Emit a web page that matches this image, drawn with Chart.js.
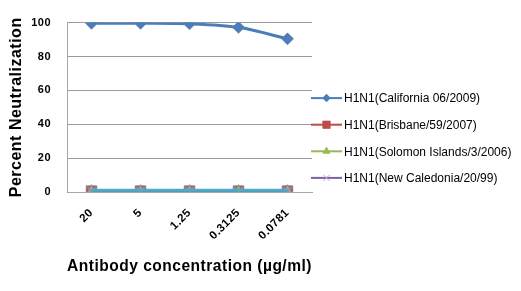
<!DOCTYPE html>
<html lang="en">
<head>
<meta charset="UTF-8">
<title>Percent Neutralization</title>
<script src="https://cdn.jsdelivr.net/npm/chart.js"></script>
<style>
  body { margin: 0; background: #fff; }
</style>
</head>
<body>
<canvas id="chart" width="521" height="291"></canvas>
<script>
// concentrations (x categories)
const concentrations = ['20', '5', '1.25', '0.3125', '0.0781'];
const yTicks = [0, 20, 40, 60, 80, 100];

// percent neutralization per strain
const california = [99.6, 99.6, 99.3, 97.2, 90.4];
const brisbane = [0.5, 0.5, 0.5, 0.5, 0.5];
const solomon = [0.8, 0.8, 0.8, 0.8, 0.8];
const newCaledonia = [0.5, 0.5, 0.5, 0.5, 0.5];
const baseline = [1, 1, 1, 1, 1];

const strainNames = [
  'H1N1(California 06/2009)',
  'H1N1(Brisbane/59/2007)',
  'H1N1(Solomon Islands/3/2006)',
  'H1N1(New Caledonia/20/99)'
];

const series = [
  { label: strainNames[0], data: california, color: '#4a7ebb', style: 'rectRot', r: 6, lr: 4 },
  { label: strainNames[1], data: brisbane, color: '#be4b48', style: 'rect', r: 7.5, lr: 5.5 },
  { label: strainNames[2], data: solomon, color: '#98b954', style: 'triangle', r: 6, lr: 4.5 },
  { label: strainNames[3], data: newCaledonia, color: '#7d60a0', style: 'crossRot', r: 6, lr: 4.5 }
];

// later series are drawn on top, like the spreadsheet
const datasets = series.map((s, i) => ({
  label: s.label,
  data: s.data,
  order: 10 - i,
  borderColor: s.color,
  backgroundColor: s.color,
  borderWidth: 3,
  pointStyle: s.style,
  pointRadius: s.r,
  pointBorderWidth: s.style === 'crossRot' ? 1.5 : 1,
  pointBorderColor: s.style === 'crossRot' ? '#9d88c4' : 'rgba(120,120,170,0.7)',
  tension: 0.3
}));
// fifth flat series drawn last, not listed in the legend
datasets.push({
  label: '',
  data: baseline,
  order: 0,
  borderColor: '#4bacc6',
  backgroundColor: '#4bacc6',
  borderWidth: 3,
  pointRadius: 0,
  tension: 0
});

const spacing = {
  id: 'spacing',
  beforeDraw(chart) { chart.ctx.letterSpacing = '0.5px'; }
};

// legend drawn by hand: line + marker, like the spreadsheet legend
const sideLegend = {
  id: 'sideLegend',
  afterDraw(chart) {
    const ctx = chart.ctx;
    const area = chart.chartArea;
    const x0 = area.right - 1;
    const yStart = area.top + 75.5;
    const step = 26.6;
    ctx.save();
    series.forEach((s, i) => {
      const y = yStart + i * step;
      const cx = x0 + 15.5;
      ctx.strokeStyle = s.color;
      ctx.lineWidth = 2;
      ctx.beginPath();
      ctx.moveTo(x0, y);
      ctx.lineTo(x0 + 31, y);
      ctx.stroke();
      if (s.style !== 'crossRot') {
        ctx.fillStyle = s.color;
        Chart.helpers.drawPoint(ctx, { pointStyle: s.style, radius: s.lr, rotation: 0, borderWidth: 0 }, cx, y);
        ctx.fill();
      } else {
        ctx.strokeStyle = '#b9a8d8';
        ctx.lineWidth = 1;
        Chart.helpers.drawPoint(ctx, { pointStyle: s.style, radius: s.lr, rotation: 0, borderWidth: 1 }, cx, y);
      }
      ctx.fillStyle = '#000';
      ctx.font = '12px "Liberation Sans", Arial, sans-serif';
      ctx.letterSpacing = '0px';
      ctx.textBaseline = 'middle';
      ctx.textAlign = 'left';
      ctx.fillText(s.label, x0 + 33, y + 1);
    });
    ctx.restore();
  }
};

new Chart(document.getElementById('chart'), {
  type: 'line',
  data: { labels: concentrations, datasets: datasets },
  options: {
    responsive: false,
    animation: false,
    devicePixelRatio: 1,
    layout: { padding: { top: 21, right: 209, left: 0, bottom: 0 } },
    plugins: {
      legend: { display: false },
      tooltip: { enabled: false }
    },
    scales: {
      x: {
        offset: true,
        grid: { display: false, drawTicks: false },
        border: { color: '#a6a6a6', width: 1 },
        ticks: {
          color: '#000',
          font: { family: '"Liberation Sans", Arial, sans-serif', size: 11.5, weight: 'bold' },
          minRotation: 45,
          maxRotation: 45,
          padding: 14
        },
        title: {
          display: true,
          text: 'Antibody concentration (µg/ml)',
          color: '#000',
          font: { family: '"Liberation Sans", Arial, sans-serif', size: 16, weight: 'bold' },
          padding: { top: 0, bottom: 15 }
        },
        afterFit(scale) { scale.height = 99; }
      },
      y: {
        min: 0,
        max: 100,
        afterBuildTicks(scale) { scale.ticks = yTicks.map(v => ({ value: v })); },
        grid: { color: '#9a9a9a', lineWidth: 1, drawTicks: false },
        border: { color: '#a6a6a6', width: 1 },
        ticks: {
          color: '#000',
          font: { family: '"Liberation Sans", Arial, sans-serif', size: 11, weight: 'bold' },
          padding: 16
        },
        title: {
          display: true,
          text: 'Percent Neutralization',
          color: '#000',
          font: { family: '"Liberation Sans", Arial, sans-serif', size: 16, weight: 'bold' },
          padding: { top: 7, bottom: 0 }
        },
        afterFit(scale) { scale.width = 67; }
      }
    }
  },
  plugins: [spacing, sideLegend]
});
</script>
</body>
</html>
